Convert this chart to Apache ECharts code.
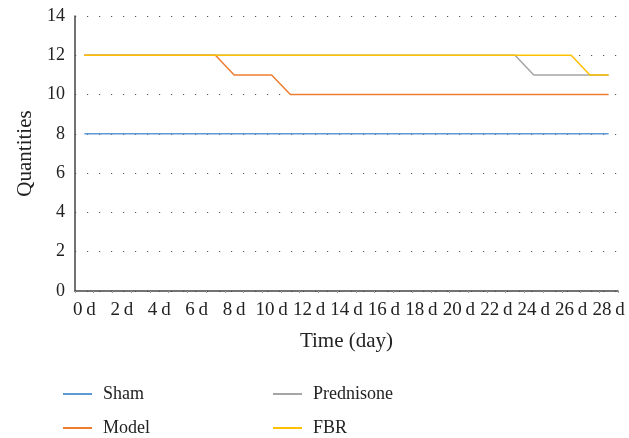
<!DOCTYPE html>
<html>
<head>
<meta charset="utf-8">
<script src="https://cdn.jsdelivr.net/npm/echarts@6/dist/echarts.min.js"></script>
<style>
  html, body { margin: 0; padding: 0; background: #fff; }
  #chart { width: 629px; height: 438px; }
</style>
</head>
<body>
<div id="chart"></div>
<script>
// data
var days = [];
for (var d = 0; d <= 28; d++) days.push(d + 'd');

var sham       = [8,8,8,8,8,8,8,8,8,8,8,8,8,8,8,8,8,8,8,8,8,8,8,8,8,8,8,8,8];
var model      = [12,12,12,12,12,12,12,12,11,11,11,10,10,10,10,10,10,10,10,10,10,10,10,10,10,10,10,10,10];
var prednisone = [12,12,12,12,12,12,12,12,12,12,12,12,12,12,12,12,12,12,12,12,12,12,12,12,11,11,11,11,11];
var fbr        = [12,12,12,12,12,12,12,12,12,12,12,12,12,12,12,12,12,12,12,12,12,12,12,12,12,12,12,11,11];

var font = 'Liberation Serif';

function line(name, data, color) {
  return {
    name: name,
    type: 'line',
    data: data,
    symbol: 'none',
    lineStyle: { color: color, width: 1.5 },
    itemStyle: { color: color }
  };
}

function legendAt(items, left) {
  return {
    data: items,
    orient: 'vertical',
    left: left, top: 385,
    padding: 0,
    icon: 'rect', itemWidth: 29, itemHeight: 2, itemGap: 16,
    textStyle: { fontFamily: font, fontSize: 18, color: '#222', padding: [0, 0, 0, 6] }
  };
}

var myChart = echarts.init(document.getElementById('chart'));
myChart.setOption({
  animation: false,
  textStyle: { fontFamily: font },
  grid: { left: 75, right: 11, top: 16, bottom: 147 },
  legend: [legendAt(['Sham', 'Model'], 63), legendAt(['Prednisone', 'FBR'], 273)],
  xAxis: {
    type: 'category',
    data: days,
    boundaryGap: true,
    name: 'Time (day)',
    nameLocation: 'middle',
    nameGap: 40,
    nameTextStyle: { fontFamily: font, fontSize: 21, color: '#222' },
    axisLine: { lineStyle: { color: '#444', width: 1.5 } },
    axisTick: { show: true, length: 2, interval: 0, lineStyle: { color: '#999' } },
    axisLabel: {
      interval: 1, fontSize: 19, color: '#222', margin: 10,
      // thin gap between number and unit, as in the figure
      formatter: function (v) { return v.replace('d', '\u2009d'); }
    }
  },
  yAxis: {
    type: 'value',
    min: 0, max: 14, interval: 2,
    name: 'Quantities',
    nameLocation: 'middle',
    nameGap: 38,
    nameTextStyle: { fontFamily: font, fontSize: 21, color: '#222' },
    axisLine: { show: true, lineStyle: { color: '#444', width: 1.5 } },
    axisTick: { show: false },
    axisLabel: { fontSize: 18, color: '#222', margin: 10 },
    splitLine: { show: true, lineStyle: { color: '#555', width: 1, type: [1.2, 10.8] } }
  },
  series: [
    line('Sham', sham, '#5B9BD5'),
    line('Model', model, '#ED7D31'),
    line('Prednisone', prednisone, '#A5A5A5'),
    line('FBR', fbr, '#FFC000')
  ]
});
</script>
</body>
</html>
